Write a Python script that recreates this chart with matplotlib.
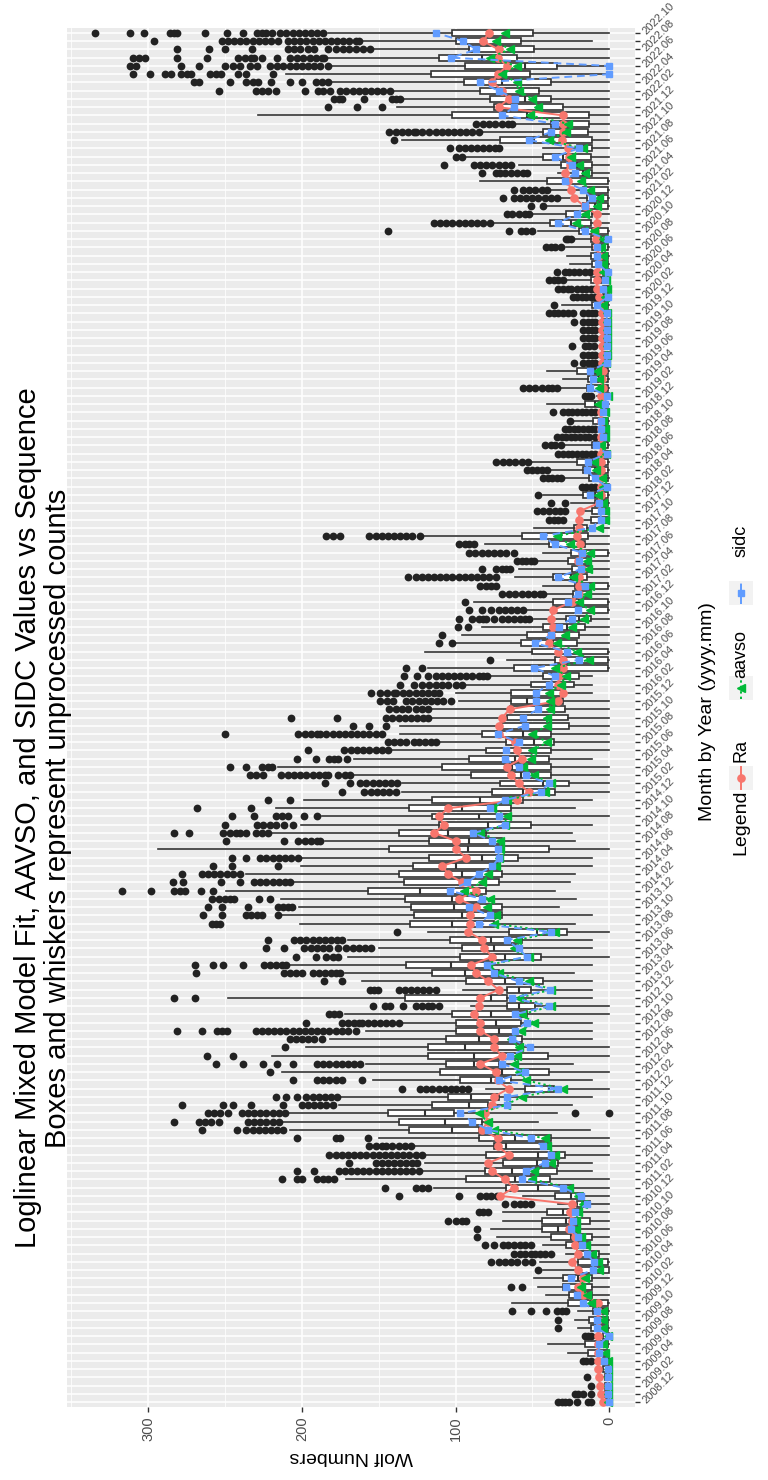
import matplotlib
matplotlib.use("Agg")
import matplotlib.pyplot as plt
from matplotlib.lines import Line2D
from matplotlib.patches import Rectangle
import numpy as np

plt.rcParams['font.family'] = ['Liberation Sans', 'DejaVu Sans']

# month categories 2008.12 .. 2022.10
months = ['2008.12'] + [f'{y}.{m:02d}' for y in range(2009, 2023) for m in range(1, 13)]
months = months[:167]

# box statistics per month (raw observer counts)
whis_lo = [0,
    0, 0, 0, 0, 0, 0, 0, 0, 0, 0, 0, 0,                          # 2009
    0, 0, 0, 0, 0, 0, 0, 0, 0, 0, 0, 0,                          # 2010
    0, 0, 0, 11.5, 11.5, 0, 0, 0, 12.5, 46.5, 34, 24.5,          # 2011
    11.5, 0, 11.5, 0, 23.8, 0, 0, 11.5, 11.5, 11.5, 0, 0,        # 2012
    11.5, 11.5, 11.5, 23, 11.5, 0, 11.5, 11.5, 0, 22.5, 11.5, 32.9,  # 2013
    21.9, 35, 25.6, 22.5, 11.5, 11.5, 0, 22.5, 24.5, 11.5, 0, 22.5,  # 2014
    11.5, 0, 0, 0, 0, 11.5, 0, 0, 0, 0, 0, 0,                    # 2015
    0, 11.5, 11.5, 11.5, 0, 0, 0, 0, 0, 0, 0, 0,                 # 2016
    0, 0, 0, 0, 0, 0, 0, 0, 0, 0, 0, 0,                          # 2017
    0, 0, 0, 0, 0, 0, 0, 0, 0, 0, 0, 0,                          # 2018
    0, 0, 0, 0, 0, 0, 0, 0, 0, 0, 0, 0,                          # 2019
    0, 0, 0, 0, 0, 0, 0, 0, 0, 0, 0, 0,                          # 2020
    0, 0, 0, 0, 0, 0, 0, 0, 0, 0, 0, 0,                          # 2021
    0, 0, 0, 0, 0, 0, 0, 0, 11.5, 0]                             # 2022

q1 = [0,
    0, 0, 0, 0, 0, 1, 1, 0, 1, 1, 1, 1,
    11.5, 11.5, 11.5, 0, 1, 6.8, 13, 11.5, 20, 12.5, 17.8, 12.5,
    17, 23.8, 38.6, 34, 33, 29, 37.6, 37.6, 84.6, 83, 100.8, 78.6,
    72, 36, 64, 39.4, 71.5, 40, 56.4, 57, 60.3, 57.7, 53.8, 48,
    66.8, 51, 43, 72, 76, 44.6, 60.8, 57, 27.7, 75, 69.5, 69.5,
    82.5, 80.4, 71.5, 70, 72.6, 59.5, 39.4, 70, 80.4, 50.7, 63.7, 63.7,
    56.4, 35.5, 26.4, 37.6, 37.6, 39.4, 38, 36, 38, 26.4, 27, 29,
    30.3, 30.3, 23, 19.8, 1, 1, 1, 21, 19.8, 16, 12, 1,
    1, 12, 1, 14.6, 12, 12, 1, 16, 14, 14.6, 1, 1,
    1, 1, 0, 1, 1, 1, 0, 1, 0, 0, 1, 0,
    5.5, 0, 1, 1, 1, 0, 0, 0, 0, 0, 0, 0,
    1, 0, 0, 1, 0, 1, 1, 1, 1, 1, 12, 11.5,
    1, 1, 1, 1, 11.5, 11.5, 12, 11.5, 11.5, 14, 13.3, 13.3,
    30.3, 38, 45.4, 37.6, 51.7, 34.2, 60.3, 49, 57.7, 49.3]

med = [0,
    0, 1, 1, 1, 1, 5, 6, 1, 5, 5, 4, 12,
    18.5, 21, 20, 11.5, 9.4, 13, 21, 25, 33, 28, 30, 17,
    25, 46, 61.6, 63, 47, 46, 67, 61.6, 102, 107, 120, 91,
    90, 39.4, 77, 70, 87.7, 87.7, 94, 85, 72, 73.4, 77, 59,
    77, 59, 68, 94, 103, 68, 74.7, 77, 47, 102, 95.6, 100.8,
    102, 123, 95.6, 95.6, 99.5, 82.5, 91.6, 90.9, 104.7, 78.6, 85, 95.6,
    83.8, 56.4, 43.3, 57.7, 63, 61.6, 59, 48.6, 56, 55, 57.7, 46,
    53.8, 38, 38, 33, 31.6, 19.8, 33, 36.8, 38.6, 27.7, 19.8, 20.4,
    19.8, 17.8, 14.6, 25, 17.8, 19.8, 17.2, 33, 42, 18.5, 5.5, 5.5,
    4.2, 9.4, 1, 6.8, 9.4, 10.7, 1, 5.5, 1, 1, 5.5, 1,
    9, 1, 6.8, 6.8, 9.4, 1, 1, 1, 1, 1, 1, 1,
    5.5, 1, 1, 5.5, 1, 5.5, 5.5, 5.5, 5.5, 11.5, 25, 19.8,
    9.4, 6.8, 10.7, 29, 17.2, 21, 30.3, 17.2, 49, 27.7, 29, 53.8,
    63, 55, 69.5, 69.5, 70.8, 55, 82.5, 69.5, 82.5, 78]

q3 = [2,
    3, 3, 3, 4, 4, 14, 16, 4, 12, 13, 10.7, 27,
    26.4, 30, 30, 20, 20, 21, 28, 37.6, 44, 44, 40.7, 21,
    35, 67, 93, 81, 69, 80, 75, 84.6, 130, 137, 144, 115,
    104.7, 55, 97, 110, 106.5, 117.8, 117.8, 106, 99.5, 99.5, 102, 66.8,
    132.6, 66.8, 93, 115, 132, 96.9, 95.6, 103.4, 65.5, 129.5, 126.9, 129,
    132.6, 157, 133.4, 136.8, 127.4, 117, 143, 117, 136.8, 111, 115, 130,
    115, 76, 70.8, 89.8, 109, 90.9, 79.9, 67.4, 82.5, 70, 66.8, 64.8,
    63.7, 63.7, 51, 43.3, 62, 35, 49.9, 57.7, 53.8, 43.3, 28.2, 36.8,
    36.8, 23.8, 22.5, 36.8, 24.5, 27, 25, 39.4, 57, 23, 12, 11.5,
    9.4, 17.2, 4, 13.3, 17.2, 21, 4, 11.5, 4, 4, 10.7, 4,
    16, 4, 14.6, 14, 21, 4, 4, 4, 4, 4, 4, 4,
    11.5, 4, 4, 12, 4, 11.5, 12, 11.5, 12, 19.8, 38.6, 28.2,
    17.2, 14.6, 17.2, 40.2, 21, 31.6, 43.3, 21, 70.8, 43.3, 38, 102,
    75, 77.3, 83.8, 94.3, 116, 93.5, 111, 90.9, 99.5, 102]

whis_hi = [5,
    6, 6, 7, 8, 8, 27, 40, 8, 20, 22, 20, 63,
    41, 46.5, 48.6, 43, 45, 28, 43, 73, 77, 69, 69, 33,
    56, 114, 171, 122, 120, 120, 128, 150, 208, 213, 209, 176,
    176, 80, 153.5, 213, 158, 219.6, 197, 181.7, 158, 134.7, 172, 90,
    248, 95, 161, 172, 208, 170, 150, 170, 117.8, 201, 213, 202,
    213.6, 249.6, 205, 236.6, 200.5, 200.5, 293.5, 185, 221, 200.5, 187, 217,
    198.7, 134.7, 134.7, 167, 215.7, 166, 142.6, 111, 136, 136, 116.4, 116,
    98, 100, 93, 78.6, 117.8, 66.8, 119.6, 99.5, 95.6, 83, 48.6, 55,
    88, 40.7, 43, 61.6, 59, 46, 43, 81, 121.7, 48.6, 17, 17,
    25, 43.3, 8, 30.3, 39.4, 51, 8, 30.3, 8, 8, 23.8, 8,
    40.2, 8, 32.9, 30.3, 40.7, 8, 8, 8, 8, 8, 8, 8,
    31, 8, 8, 27.7, 8, 25.6, 27.7, 28.2, 23.8, 46, 76, 50,
    40.2, 33, 39.4, 83.8, 33, 59, 93, 43, 134.7, 82.5, 61.6, 228.7,
    137.9, 134.7, 141, 181.7, 210, 181.7, 184, 154, 162, 183]

outliers = [
    [33, 31, 29, 26, 21, 14, 12],                                  # 2008.12
    # 2009
    [22, 20, 17, 12], [12], [14.6], [], [17, 15, 12], [], [], [16, 14, 12],
    [33], [33], [63, 51, 41, 34, 31, 28], [],
    # 2010
    [], [64, 57], [], [46.5], [77, 72, 68, 64, 60, 55, 50],
    [62, 58, 55, 51, 48, 45, 42, 38], [81, 75, 69, 66, 62, 58, 55, 51],
    [86], [86], [105, 100, 96, 93], [85, 82, 79], [68, 62, 58, 55, 51],
    # 2011
    [137, 98, 84, 80, 77, 73], [146, 126, 122, 118],
    [213, 203, 200, 190, 186, 183, 179],
    [203, 192, 176, 172, 168, 164, 160, 156, 152, 148, 144, 140, 136, 132, 128, 124],
    [169, 152, 148, 144, 140, 136, 132, 128, 125],
    [182, 178, 174, 170, 166, 162, 158, 154, 150, 146, 142, 138, 134, 130, 126, 122],
    [156, 152, 148, 145, 141, 137, 133, 129], [203, 178, 175, 157],
    [265, 242, 236, 232, 228, 224, 220, 216, 212],
    [283, 267, 263, 259, 254, 235, 231, 227, 223, 219, 215],
    [261, 257, 253, 248, 239, 235, 231, 227, 223, 219, 215, 211, 22, 0],
    [278, 251, 245, 233, 212, 200, 196, 192, 188, 184, 180],
    # 2012
    [217, 210, 203, 197, 193, 189, 185, 181, 177],
    [135, 123, 119, 115, 111, 107, 103, 100, 96, 92],
    [206, 190, 186, 182, 178, 174, 161], [221],
    [256, 238, 225, 216, 206, 190, 186, 182, 178, 174, 170, 166, 162],
    [262, 245], [211], [208, 204, 200, 196, 192, 187],
    [281, 265, 255, 252, 249, 230, 226, 222, 218, 214, 210, 206, 202, 198, 194, 190,
     186, 182, 178, 174, 170, 165],
    [197, 174, 170, 166, 163, 161, 157, 153, 149, 145, 141, 137],
    [182, 179, 176],
    [153.5, 145.7, 142.6, 134, 125.6, 122, 118, 115, 111],
    # 2013
    [283.5, 269.7], [155.6, 153, 150.4, 137, 133, 129, 125, 121, 117, 112.5],
    [185.6, 174], [268.7, 211.7, 208, 204, 200, 192.7, 189, 185, 181, 178, 175],
    [269.7, 258, 251, 238, 224.8, 221, 217, 213, 210],
    [204, 191, 184, 180, 176.5],
    [223, 211.7, 198.7, 194, 190, 186, 182, 176.5, 171, 167, 163, 159, 155],
    [222, 205, 201, 197, 193, 189, 185, 181, 177, 174],
    [137.9], [258.7, 256, 253.5], [264, 252, 236.6, 233, 229, 226, 215.7],
    [261, 251.7, 235, 215.7, 212, 209, 206.5],
    # 2014
    [258.7, 254, 250, 247, 243.9, 228, 221],
    [317, 298, 283.5, 279, 275.7, 265.8, 258],
    [284, 277, 252.7, 240.5, 231, 227, 223, 219, 215, 211, 207.8],
    [277.8, 265, 261, 257, 253, 249, 245, 240.5],
    [258, 245.7, 215.7],
    [245.7, 236, 227, 223, 219, 215, 211, 207, 202.6],
    [],
    [249.6, 211.7, 202.6, 198, 194, 190, 188],
    [283.5, 273.6, 251, 247, 243, 240, 236.6, 230, 226, 222],
    [250, 229, 225, 221, 217, 211.7, 205.7],
    [245.7, 230.8, 217, 213, 209, 198.7, 190],
    [268, 233],
    # 2015
    [222, 207.8], [174, 159.5, 155, 151, 147, 143, 138.6],
    [184.9, 168.7, 162, 158, 154, 150, 146, 142, 138],
    [234, 230, 225, 213.6, 209, 205, 201, 197, 193, 189, 185, 183, 176.5, 172, 168.7],
    [247, 236, 226, 222, 219.6], [203, 190.9, 182, 179, 176.5, 170.8],
    [196, 172.6, 168, 164, 160, 156, 152, 148, 143.9],
    [143.9, 140, 136, 132, 126.9, 124, 120, 116, 112.5],
    [250, 202.6, 198, 194, 190, 188, 184, 180, 176, 172, 168, 164, 160, 156, 152, 147.8],
    [167, 156, 145], [207, 177, 145, 141, 137, 133, 129, 125, 121, 117.8],
    [143, 139, 135, 130.8, 125.6, 122, 117.8],
    # 2016
    [149, 144.5, 140.5, 132, 128, 124, 120, 116, 112, 108, 103],
    [155, 149, 144.5, 140, 138.6, 134, 130, 126, 122, 118, 114, 111],
    [136, 127, 121.7, 117, 113, 109, 105, 100, 95.6],
    [133.4, 124.8, 117.8, 113, 109, 105, 101, 97, 93, 89, 85, 82, 79.4],
    [132, 121.7], [77.8], [], [111, 102], [108.6], [98.7, 91.6],
    [98, 89, 85, 82, 79.9, 74.7, 70, 66, 62, 58, 55, 52.5],
    [90.9, 82.5, 76.8, 72, 68, 64, 60, 56.4],
    # 2017
    [93.5], [69.5, 65, 61, 57, 53, 49, 45, 43.3], [83.8, 80, 77, 73.4],
    [130.8, 126, 122, 118, 114, 110, 106, 102, 98, 94, 90, 86, 82, 78, 73.4],
    [83, 73.4, 70, 67, 64.8], [60.3, 57, 54, 51, 48.6],
    [90.9, 87, 83, 79, 75, 71, 67, 62], [98, 94, 91, 87.7],
    [184, 180, 175, 156, 152, 148, 144, 140, 136, 132, 128, 123],
    [], [39.4, 36, 33, 30.3], [47, 43, 39, 35, 32, 29],
    # 2018
    [38, 29], [46.5], [17.8, 15, 12, 9.4], [43.3, 40, 37, 34, 31.6],
    [53.8, 50, 47, 44, 40.7], [73.4, 69, 65, 61, 57, 53],
    [33, 30, 27, 24, 21, 18, 15, 12, 9.4], [42, 38, 35, 31.6],
    [34, 31, 28, 25, 22, 19, 16, 13, 9.4], [29, 26, 23, 20, 17, 14, 11, 9.4],
    [25.6], [36.8, 30.3, 27, 24, 21, 18, 15, 12, 9.4],
    # 2019
    [], [16, 14, 12], [56.4, 52, 48, 44, 40, 37, 34.2], [], [],
    [23, 17, 14, 11, 9.4], [17, 14, 11, 9.4], [24.5, 16, 13, 10],
    [17, 14, 11, 9.4], [17, 14, 11, 9.4], [23, 17, 14, 11, 9.4],
    [39.4, 36, 33, 30, 27, 23.8, 17, 14, 11, 9.4],
    # 2020
    [36], [23.8, 21, 18, 15, 12, 9.4], [33, 30, 27, 25, 21, 18, 15, 12, 10],
    [39.4, 36, 33, 30.3], [34, 29, 26, 23, 19.8, 16, 12.5], [], [],
    [41.3, 38, 35, 31.6], [28.2, 26.5, 25], [143.9, 65.5, 57.7, 54, 49.9],
    [113.8, 110, 106, 102, 98, 94, 90, 86, 82, 77.3], [66.8, 63, 59, 55, 52.5],
    # 2021
    [51, 43.3], [69, 62, 58, 54, 50, 46, 42, 38, 34], [62, 56.4, 52, 48, 44, 40.7],
    [], [83, 73.4, 70.8, 68, 64, 60, 56, 53.8], [107.3, 87.7, 84, 80, 76, 72, 68, 64],
    [99.5, 96], [103.4, 98, 94, 90, 86, 82, 78, 74, 72], [140],
    [143, 139, 135, 131, 127, 125.6, 121.7, 117, 113, 109, 105, 101, 97, 93, 89, 85],
    [86.4, 82, 78, 74, 70, 66, 63], [],
    # 2022
    [183, 164, 147.8], [179, 176, 174, 159.5, 141, 138.5, 136],
    [254, 230, 226, 222, 217, 198, 189.6, 186, 181.7, 175, 171, 167, 163, 159, 155, 151, 147, 142.6],
    [270, 266.6, 247, 236, 232, 228.7, 220, 208, 200, 190.9, 187, 183],
    [310, 298.7, 289, 284.9, 278.9, 275, 271.8, 260, 256, 252.7, 241.8, 236, 218.8],
    [311.7, 308, 278.9, 266.6, 250, 245, 240.5, 234, 229, 220.9, 216, 212, 208, 204,
     200, 196, 192, 188, 183],
    [310, 306, 301.8, 281, 262, 241.8, 237, 233, 231, 226, 216, 207.8, 203, 199, 195,
     191, 187, 185.6],
    [281, 260.6, 250, 232.6, 209, 205, 201, 196, 192, 183, 177.8, 173, 169, 165, 160, 155.6],
    [296, 252, 248, 244, 240, 236, 232, 228, 224, 220, 215.7, 209, 205, 201, 197, 193,
     189, 185, 181, 177, 173, 169, 165, 163],
    [334.5, 311.7, 302.6, 286, 283, 281, 263, 249, 238, 229, 226, 223, 219.6, 214, 210,
     206, 202, 198, 194, 190, 186],
]

# series: model fit (Ra), AAVSO and SIDC
ra = [4,
    5.5, 6, 6.8, 7.3, 7, 7.5, 7.5, 7.3, 7.5, 7.5, 7.5, 7.3,
    17.2, 20, 17, 20, 24.5, 20, 22, 22.5, 26, 24.5, 25.6, 24.5,
    70.8, 62, 68, 76, 78.6, 65.5, 72.6, 72.6, 83, 78.6, 81, 76,
    75, 65.5, 72.6, 73.4, 83.8, 70, 74.7, 74.7, 83.8, 83.8, 87.7, 85,
    83.8, 72, 78.6, 86.4, 89.8, 76, 81.2, 82.5, 91.6, 90.3, 90.3, 86.4,
    98, 86.4, 95.6, 104.7, 108.6, 93, 99.5, 99.5, 113.8, 107.3, 111, 104.7,
    60.3, 52.5, 59, 63.7, 66.8, 57, 60.3, 61.6, 72, 71.5, 69.5, 64.8,
    33, 29.8, 33.4, 32.4, 30.3, 30.3, 33, 39.4, 37.6, 36.8, 37.6, 36.8,
    24.5, 19.8, 19.8, 19.8, 17.8, 20.4, 17.8, 19.3, 21, 19.8, 19.8, 19.3,
    6.8, 5.5, 5.5, 5.5, 5.5, 5.5, 5.5, 5.5, 5.5, 5.5, 5.5, 5.5,
    4.2, 5.5, 4.2, 4.7, 3.7, 4.7, 4.7, 4.7, 4.7, 4.7, 4.7, 4.7,
    5.5, 6.8, 8.1, 8.1, 8.1, 6.8, 6.8, 8.1, 8.9, 9.4, 8.1, 8.1,
    16, 23, 25, 27, 29, 25.6, 26.4, 27, 30.8, 30.3, 29.8, 29.8,
    72, 65.5, 69.5, 76, 72.6, 66.3, 72.6, 72, 82, 78.3]

aavso = [0.5,
    0.5, 0.5, 1, 1, 1, 3, 3.7, 1, 4, 4, 3.7, 12,
    14.6, 18.5, 16, 6.8, 7.3, 11.5, 15, 18.5, 21.7, 21.7, 20, 17,
    20, 26.4, 50, 48.6, 38, 35.5, 40.7, 42, 74.7, 79, 85, 67.4,
    57, 30.3, 54, 59, 62, 60.3, 59, 64, 57.7, 49, 57, 37.6,
    59, 37.6, 52.5, 72, 78.6, 52.5, 62, 60.3, 35, 75, 73.4, 79.4,
    77.8, 94.3, 82.5, 78.6, 73.4, 72, 70.8, 70.8, 83.8, 68, 66.8, 76,
    66.8, 42, 37.6, 49, 56.4, 51, 50, 40.2, 50, 40.2, 40.7, 38.6,
    38.6, 39.4, 31.6, 28.2, 35, 13.3, 21, 34.2, 29, 24.5, 16.4, 12.5,
    19.8, 14.6, 12.5, 23.8, 14, 14.6, 12.5, 25.6, 34.2, 6.8, 2.9, 2.9,
    4.2, 7.3, 4.2, 4.7, 8.9, 9.9, 2, 5.5, 2.9, 2.9, 3.7, 2.9,
    7.3, 1, 6.8, 6.8, 8.1, 2, 1.6, 1.6, 1.6, 1.6, 1.6, 1.6,
    4.2, 2.9, 1.6, 2, 4.2, 3.7, 3.7, 5.5, 3.7, 9.9, 21.9, 16,
    8.1, 6.8, 12.5, 18.5, 16, 19.8, 25, 17.2, 39.4, 28.2, 27, 51.7,
    46, 49.9, 59, 60.3, 69.5, 60.3, 77.8, 64.8, 73.4, 68]

sidc = [0,
    1, 1, 1, 1, 3.6, 6.8, 6.8, 0, 7.8, 7.8, 7.8, 17,
    21, 28, 25, 10.7, 10, 14.6, 18, 20, 25, 23.8, 22.5, 14.6,
    18.5, 30, 57, 54, 42, 38, 43, 51, 78.6, 89, 97, 66.8,
    66.3, 33.4, 72, 55, 69.5, 64.8, 51.7, 63, 61.6, 53.8, 61.6, 39.4,
    63, 38.6, 59, 74.7, 79.4, 53.8, 59, 66.8, 38, 85, 77.8, 90.9,
    82.5, 103.9, 92.4, 85, 76, 71.5, 72.6, 76, 88.3, 68, 72, 77.8,
    68, 44.6, 39.4, 54.3, 59, 68, 67.4, 58.5, 72.6, 55, 56.4, 46,
    47.3, 47.3, 39.4, 35, 48.6, 19.8, 27.7, 48, 37.6, 32.9, 24.5, 20.4,
    27, 20.4, 16, 33.4, 18.5, 19.8, 17.8, 35.5, 43.3, 11.5, 5.5, 5.5,
    6.8, 12.5, 1.6, 9.4, 14.6, 14, 1.6, 8.9, 4.2, 5.5, 5.5, 3.7,
    2.9, 1.6, 12.5, 10.7, 12.5, 1.6, 1.6, 1.6, 1.6, 1.6, 1.6, 1.6,
    8.1, 1, 3.7, 2.9, 1, 7.3, 8.1, 8.1, 1, 16, 33.4, 21,
    16, 11.5, 17.2, 29, 22.5, 24.5, 35.5, 19.8, 52.5, 37.6, 35.5, 69.5,
    62, 61, 72, 83.8, 0, 0, 102.9, 86.4, 95, 112.5]

series_names = ['Ra', 'aavso', 'sidc']
series_colors = ['#F8766D', '#00BA38', '#619CFF']
series_ls = ['-', (0, (1.2, 1.6)), (0, (4, 2.5))]
series_mk = ['o', '<', 's']
series_ms = [5.2, 5.8, 5.0]

W, H = 768, 1480


def fx(px):
    return px / W


def fy(py):
    return 1 - py / H


fig = plt.figure(figsize=(W / 100, H / 100), dpi=100)
ax = fig.add_axes([fx(67), fy(1407), fx(635) - fx(67), fy(28) - fy(1407)])

pos = np.arange(len(months))
stats = [dict(whislo=a, q1=b, med=c, q3=d, whishi=e, fliers=f)
         for a, b, c, d, e, f in zip(whis_lo, q1, med, q3, whis_hi, outliers)]
ax.bxp(stats, positions=pos, widths=0.72, orientation='horizontal', showcaps=False,
       patch_artist=True,
       boxprops=dict(facecolor='white', edgecolor='#333333', linewidth=1.2),
       medianprops=dict(color='#333333', linewidth=1.5),
       whiskerprops=dict(color='#333333', linewidth=1.2),
       flierprops=dict(marker='o', markerfacecolor='#222222', markeredgecolor='none',
                       markersize=5.6))

for vals, c, ls, mk, ms in zip([ra, aavso, sidc], series_colors, series_ls, series_mk, series_ms):
    ax.plot(vals, pos, color=c, lw=1.4, ls=ls, marker=mk, ms=ms, zorder=4)

ax.set_xlim(352.8, -16.8)
ax.set_ylim(-0.6, len(months) - 0.4)
ax.set_facecolor('#EBEBEB')
for s in ax.spines.values():
    s.set_visible(False)

ax.set_xticks([0, 100, 200, 300])
ax.set_xticks([50, 150, 250, 350], minor=True)
ax.set_xticklabels(['0', '100', '200', '300'], rotation=90, fontsize=10.5, color='#4D4D4D')
ax.set_yticks(pos)
ax.set_yticklabels([m if i % 2 == 0 else '' for i, m in enumerate(months)],
                   rotation=45, rotation_mode='anchor', ha='left', va='center',
                   fontsize=8, color='#4D4D4D')
ax.yaxis.tick_right()
ax.tick_params(axis='both', which='major', color='#333333', length=3.5, width=1)
ax.tick_params(axis='x', which='minor', length=0)
ax.grid(True, which='major', color='white', linewidth=1.1)
ax.grid(True, which='minor', axis='x', color='white', linewidth=0.55)
ax.set_axisbelow(True)
ax.set_xlabel('Wolf Numbers', rotation=180, fontsize=14, labelpad=5)

fig.text(fx(708), fy(712), 'Month by Year (yyyy.mm)', rotation=90, ha='center', va='center',
         fontsize=14)
fig.text(fx(43), fy(818),
         'Loglinear Mixed Model Fit, AAVSO, and SIDC Values vs Sequence\n'
         'Boxes and whiskers represent unprocessed counts',
         rotation=90, ha='center', va='center', multialignment='center', fontsize=21,
         linespacing=1.1)

# legend (drawn rotated, like the rest of the chart)
lx = 741
fig.text(fx(lx), fy(822), 'Legend', rotation=90, ha='center', va='center', fontsize=14)
key_y = [778, 688, 593]
text_y = [750, 654, 541]
for name, c, ls, mk, ms, ky, ty in zip(series_names, series_colors, series_ls, series_mk,
                                       series_ms, key_y, text_y):
    fig.add_artist(Rectangle((fx(lx - 12), fy(ky + 12)), fx(24), fy(ky - 12) - fy(ky + 12),
                             transform=fig.transFigure, facecolor='#F2F2F2', edgecolor='none'))
    fig.add_artist(Line2D([fx(lx), fx(lx)], [fy(ky + 11), fy(ky - 11)], transform=fig.transFigure,
                          color=c, lw=1.4, ls=ls))
    fig.add_artist(Line2D([fx(lx)], [fy(ky)], transform=fig.transFigure, color=c,
                          marker=mk, ms=ms, ls='none'))
    fig.text(fx(lx), fy(ty), name, rotation=90, ha='center', va='center', fontsize=13)

fig.savefig('out.png', dpi=100)
